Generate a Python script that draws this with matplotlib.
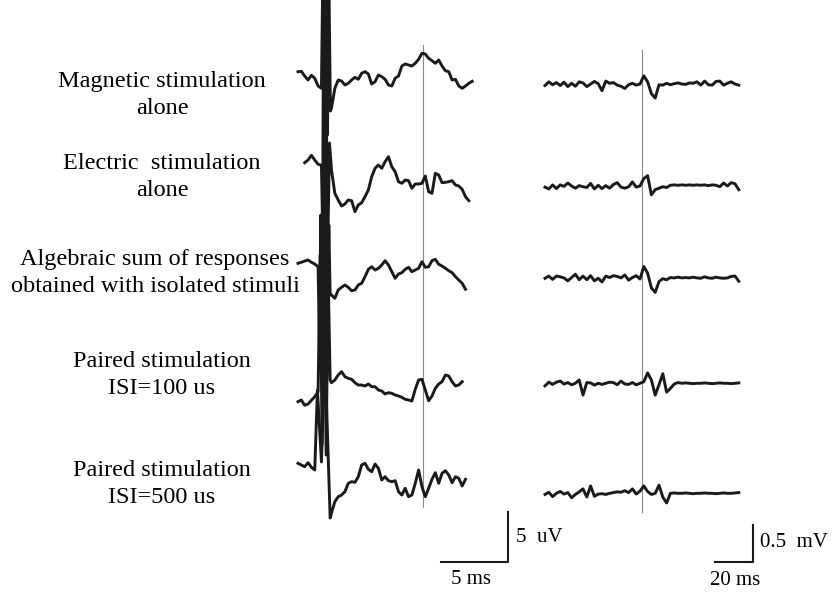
import numpy as np
import matplotlib.pyplot as plt

plt.rcParams['font.family'] = ['Liberation Serif', 'DejaVu Serif']

labels = ['Magnetic stimulation\nalone',
          'Electric  stimulation\nalone',
          'Algebraic sum of responses\nobtained with isolated stimuli',
          'Paired stimulation\nISI=100 us',
          'Paired stimulation\nISI=500 us']

nan = np.nan

# left panel: evoked potentials, uV, sampled every 0.25 ms
# (nan = inside the stimulus artefact, given separately below)
left_dt = 0.25
left_first = [0, 2, 0, 0, 0]   # index of first sample of each trace

magnetic = [0.33, 0.37, -0.1, -0.5, -0.03, -0.33, -1.1, -1.33, nan, nan,
            -3.3, -1.33, -0.5, -0.6, -1.0, -0.83, -0.5, -0.23, -0.43, 0.17,
            0.33, 0.1, -0.9, -0.67, 0.0, -0.17, -0.43, -1.0, -1.1, -0.33,
            -0.1, 0.9, 1.1, 1.0, 0.9, 1.17, 1.57, 2.17, 2.1, 1.67,
            1.43, 1.17, 1.5, 0.9, 0.43, 0.33, -0.5, -0.43, -1.1, -1.33,
            -1.1, -0.83, -0.63]
electric = [1.23, 1.5, 1.97, 1.5, 1.07, 0.97, nan, nan, 0.5, -1.83,
            -2.5, -3.1, -2.9, -2.5, -2.57, -3.67, -3.0, -2.77, -2.17, -1.5,
            -0.17, 0.67, 1.0, 0.67, 1.33, 1.83, 0.83, 0.33, -0.67, -0.83,
            -0.5, -0.57, -1.33, -0.9, -0.9, -0.83, -0.1, -1.67, -1.83, 0.17,
            0.0, -0.77, -0.73, -0.67, -0.57, -1.0, -1.1, -1.43, -2.17, -2.57]
algebraic = [0.17, 0.27, 0.4, 0.5, 0.27, 0.1, -0.17, nan, nan, nan,
             -3.0, -3.33, -2.5, -2.23, -2.0, -2.23, -2.57, -2.5, -2.0, -1.83,
             -1.17, -0.43, -0.17, -0.5, -0.33, 0.0, 0.43, 0.0, -0.67, -1.33,
             -0.9, -0.77, -0.43, -0.23, -0.67, -0.5, -0.33, 0.33, -0.23, -0.17,
             0.43, 0.57, 0.07, -0.1, -0.33, -0.57, -0.77, -1.17, -1.5, -1.83,
             -2.43]
paired_100 = [-0.67, -0.5, -1.03, -0.9, -0.53, -0.17, 0.33, nan, nan, nan,
              1.23, 1.5, 2.0, 2.33, 1.83, 1.67, 1.57, 1.23, 1.0, 1.0,
              0.9, 1.1, 0.83, 0.83, 0.5, 0.4, 0.1, 0.23, 0.17, 0.0,
              -0.1, -0.23, -0.43, -0.5, -0.6, 0.57, 1.5, 1.57, 0.5, -0.57,
              -0.1, 0.67, 1.1, 1.33, 2.0, 1.9, 1.33, 0.9, 1.0, 1.33]
paired_500 = [0.67, 0.5, 0.33, 0.73, 0.27, 0.0, nan, nan, nan, nan,
              -4.3, -3.17, -2.67, -2.5, -2.17, -1.33, -1.17, -1.23, -0.67, 0.5,
              0.67, 0.07, -0.17, 0.6, 0.17, -1.0, -0.67, -1.07, -1.17, -1.07,
              -2.17, -2.5, -1.83, -2.67, -2.5, -1.33, 0.0, -1.67, -2.67, -1.83,
              -0.93, -0.27, -1.33, -0.33, -0.07, -0.5, -1.27, -0.67, -0.83, -1.6,
              -0.93]

# stimulus artefacts (ms, uV)
art_magnetic_t = [1.85, 2.0, 2.1, 2.2, 2.3, 2.42]
art_magnetic_v = [10.0, -8.0, 10.0, -6.0, 10.0, -3.6]
art_electric_t = [1.9, 2.05, 2.2, 2.35]
art_electric_v = [-10.0, 20.0, -9.0, 3.2]
art_algebraic_t = [1.6, 1.7, 1.8, 1.9, 2.0, 2.1, 2.2, 2.3, 2.4]
art_algebraic_v = [-8.0, 5.0, -8.0, 24.0, -8.0, 22.0, -8.0, 4.0, -3.0]
art_paired_100_t = [1.65, 1.8, 1.95, 2.1, 2.25, 2.4]
art_paired_100_v = [14.0, -5.0, 14.0, -6.0, 12.0, 1.5]
art_paired_500_t = [1.45, 1.75, 2.0, 2.4]
art_paired_500_v = [8.0, 0.8, 12.0, -4.8]

# right panel: muscle responses, mV, sampled every 2 ms
right_dt = 2.0
m_magnetic = [-0.03, 0.02, -0.02, 0.01, -0.03, 0.015, -0.045, 0.0, -0.04, 0.02,
              0.005, -0.045, -0.01, 0.025, -0.005, -0.1, 0.03, 0.0, 0.01, -0.025,
              -0.04, -0.07, -0.02, 0.0, -0.025, -0.01, 0.1, 0.02, -0.14, -0.2,
              -0.02, -0.025, 0.0, -0.02, -0.005, 0.005, -0.01, -0.015, 0.005, 0.0,
              0.02, -0.025, 0.03, -0.02, -0.025, 0.025, 0.03, -0.025, 0.0, 0.02,
              -0.01, -0.025]
m_electric = [-0.015, -0.04, 0.015, -0.035, 0.015, -0.005, 0.04, 0.0, -0.03, 0.005,
              -0.01, -0.02, 0.035, -0.04, 0.01, -0.035, 0.005, -0.03, 0.02, 0.045,
              -0.015, -0.03, -0.01, 0.055, -0.015, 0.0, 0.1, 0.14, -0.12, -0.05,
              -0.03, -0.01, -0.02, 0.01, 0.015, 0.01, 0.015, 0.01, 0.015, 0.01,
              0.015, 0.01, 0.015, 0.005, 0.015, 0.01, -0.01, 0.04, 0.0, 0.045,
              0.03, -0.05]
m_algebraic = [0.0, 0.03, -0.015, 0.03, 0.02, 0.005, -0.035, 0.01, 0.055, -0.02,
               0.03, -0.02, 0.035, -0.035, 0.0, -0.05, 0.03, 0.01, 0.035, 0.025,
               0.005, 0.045, -0.025, 0.01, 0.035, -0.01, 0.16, 0.07, -0.13, -0.19,
               -0.045, -0.005, -0.02, 0.01, 0.005, 0.015, 0.005, 0.01, 0.005, 0.015,
               0.005, 0.0, 0.02, 0.005, 0.0, 0.015, 0.005, 0.0, 0.005, 0.025,
               0.03, -0.04]
m_paired_100 = [-0.035, 0.015, -0.015, 0.015, 0.03, -0.01, 0.01, -0.02, 0.0, 0.045,
                -0.16, 0.01, 0.005, -0.025, 0.0, -0.015, 0.0, 0.015, 0.01, -0.02,
                0.03, -0.01, -0.015, 0.01, -0.02, 0.0, 0.02, 0.14, 0.045, -0.16,
                -0.02, 0.13, -0.12, -0.07, -0.01, 0.01, 0.0, 0.005, 0.0, -0.005,
                0.0, 0.0, 0.005, 0.0, -0.005, 0.0, 0.005, 0.0, 0.0, -0.005,
                0.0, 0.005]
m_paired_500 = [-0.015, 0.015, -0.045, 0.0, 0.025, -0.01, 0.01, -0.06, -0.015, 0.02,
                0.06, -0.05, 0.1, -0.04, -0.01, -0.005, -0.015, 0.0, 0.01, 0.02,
                0.015, 0.035, 0.01, 0.06, -0.01, 0.03, 0.1, 0.025, -0.015, 0.0,
                0.11, -0.05, -0.13, 0.0, 0.005, 0.0, 0.0, 0.005, 0.0, -0.005,
                0.0, 0.0, 0.005, 0.0, 0.0, -0.005, 0.0, 0.005, 0.0, 0.0,
                0.005, 0.01]

left_traces = [magnetic, electric, algebraic, paired_100, paired_500]
left_art = [(art_magnetic_t, art_magnetic_v), (art_electric_t, art_electric_v),
            (art_algebraic_t, art_algebraic_v), (art_paired_100_t, art_paired_100_v),
            (art_paired_500_t, art_paired_500_v)]
right_traces = [m_magnetic, m_electric, m_algebraic, m_paired_100, m_paired_500]

# layout (figure is 835 x 595 px)
W, H = 835, 595
left_offset = [52.0, 42.0, 33.0, 20.0, 12.5]        # uV
right_offset = [6.915, 5.527, 4.28, 2.861, 1.374]     # mV
label_xy = [(162, 95), (162, 177), (155, 273), (162, 375), (162, 484)]

fig = plt.figure(figsize=(W / 100, H / 100), dpi=100)
ink = '#1a1a1a'

axl = fig.add_axes([290 / W, 0, 230 / W, 1])
axl.set_xlim(-8 / 13.4, 222 / 13.4)
axl.set_ylim(0, H / 10)
axl.axis('off')

axr = fig.add_axes([530 / W, 0, 305 / W, 1])
axr.set_xlim(-15 / 1.9, 290 / 1.9)
axr.set_ylim(0, H / 74)
axr.axis('off')

# reference latency lines
axl.plot([9.33, 9.33], [8.8, 55.0], color='#8a8a8a', lw=0.8)
axr.plot([50.8, 50.8], [1.12, 7.36], color='#8a8a8a', lw=0.8)

for vals, first, (at, av), off in zip(left_traces, left_first, left_art, left_offset):
    v = np.array(vals)
    t = (first + np.arange(len(v))) * left_dt
    keep = ~np.isnan(v)
    t_all = np.concatenate([t[keep], at])
    v_all = np.concatenate([v[keep], av])
    order = np.argsort(t_all)
    axl.plot(t_all[order], v_all[order] + off, color=ink, lw=2.1,
             solid_joinstyle='round')

for vals, off in zip(right_traces, right_offset):
    t = np.arange(len(vals)) * right_dt
    axr.plot(t, np.array(vals) + off, color=ink, lw=2.1, solid_joinstyle='round')

# scale bars
axl.plot([10.67, 15.67, 15.67], [3.3, 3.3, 8.3], color=ink, lw=1.5)
axl.text(16.27, 5.7, '5  uV', fontsize=15, va='center', ha='left')
axl.text(12.9, 1.6, '5 ms', fontsize=15, va='center', ha='center')

axr.plot([89.5, 109.5, 109.5], [0.446, 0.446, 0.946], color=ink, lw=1.5)
axr.text(113.2, 0.716, '0.5  mV', fontsize=15, va='center', ha='left')
axr.text(100, 0.2, '20 ms', fontsize=15, va='center', ha='center')

for text, (x, y) in zip(labels, label_xy):
    fig.text(x / W, 1 - y / H, text, fontsize=17.5, ha='center', va='center',
             linespacing=1.4)

fig.savefig('out.png', dpi=100)
